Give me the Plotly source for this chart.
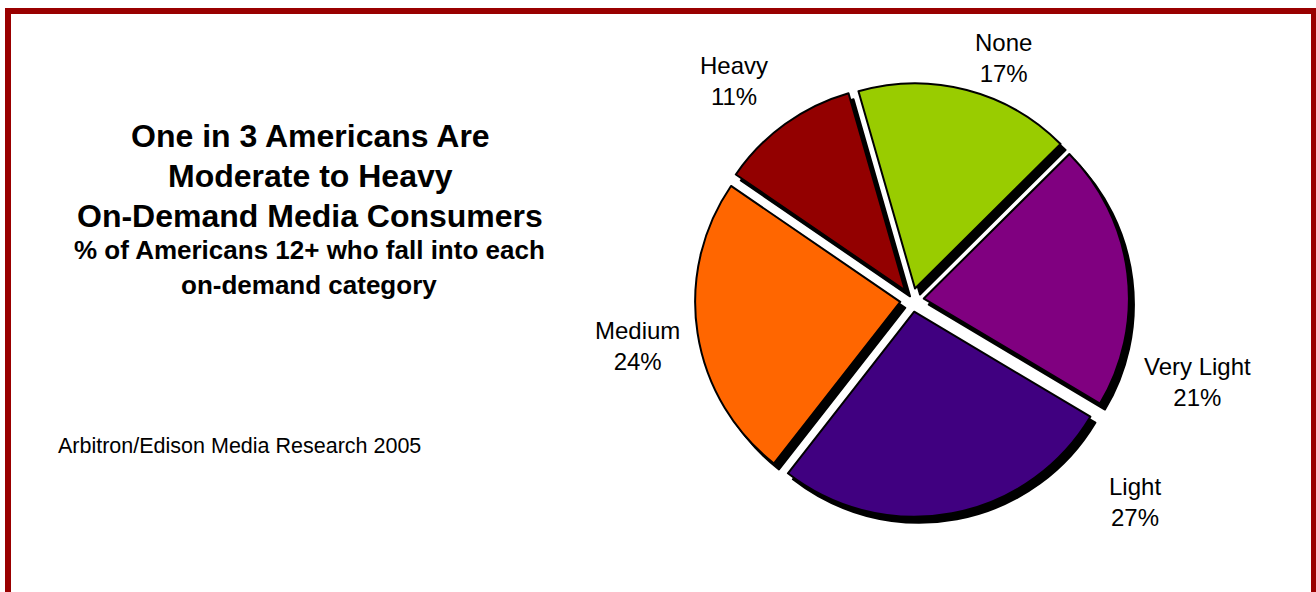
import plotly.graph_objects as go

# ---- data ----
categories = ["None", "Very Light", "Light", "Medium", "Heavy"]
values = [17, 21, 27, 24, 11]
colors = ["#99CC00", "#800080", "#400080", "#FF6600", "#930000"]

title_lines = ["One in 3 Americans Are", "Moderate to Heavy", "On-Demand Media Consumers"]
subtitle_lines = ["% of Americans 12+ who fall into each", "on-demand category"]
source_text = "Arbitron/Edison Media Research 2005"

# ---- layout helpers (pixel positions) ----
W, H = 1316, 592
def px(x):
    return x / W
def py(y):
    return 1 - y / H

# label centres (pixels), same order as categories
label_pos = [(1003, 58), (1197, 382), (1135, 502), (637, 346), (734, 81)]

pull = 0.058
cx, cy, half = 912, 300, 217
dom_x = [px(cx - half), px(cx + half)]
dom_y = [py(cy + half), py(cy - half)]
sdx, sdy = 5, 6  # shadow offset

FONT = "Liberation Sans, Arial, sans-serif"

fig = go.Figure()
# shadow
fig.add_trace(go.Pie(
    labels=categories, values=values, sort=False, direction="clockwise",
    rotation=-16, pull=[pull] * len(values),
    marker=dict(colors=["#000000"] * len(values), line=dict(color="#000000", width=2)),
    textinfo="none", hoverinfo="skip", showlegend=False,
    domain=dict(x=[d + sdx / W for d in dom_x], y=[d - sdy / H for d in dom_y]),
))
# main pie
fig.add_trace(go.Pie(
    labels=categories, values=values, sort=False, direction="clockwise",
    rotation=-16, pull=[pull] * len(values),
    marker=dict(colors=colors, line=dict(color="#000000", width=2)),
    textinfo="none", showlegend=False,
    domain=dict(x=dom_x, y=dom_y),
))

total = sum(values)
annotations = []
for cat, v, (lx, ly) in zip(categories, values, label_pos):
    annotations.append(dict(
        x=px(lx), y=py(ly), xref="paper", yref="paper",
        text=f"{cat}<br>{round(100 * v / total)}%", showarrow=False,
        xanchor="center", yanchor="middle",
        font=dict(family=FONT, size=24, color="#000000"),
    ))

for line, ypix in zip(title_lines, [136, 176, 216]):
    annotations.append(dict(
        x=px(310), y=py(ypix), xref="paper", yref="paper", text=f"<b>{line}</b>",
        showarrow=False, xanchor="center", yanchor="middle",
        font=dict(family=FONT, size=32, color="#000000"),
    ))
for line, ypix in zip(subtitle_lines, [250, 285]):
    annotations.append(dict(
        x=px(309), y=py(ypix), xref="paper", yref="paper", text=f"<b>{line}</b>",
        showarrow=False, xanchor="center", yanchor="middle",
        font=dict(family=FONT, size=26, color="#000000"),
    ))
annotations.append(dict(
    x=px(56), y=py(446), xref="paper", yref="paper", text=source_text,
    showarrow=False, xanchor="left", yanchor="middle",
    font=dict(family=FONT, size=21.5, color="#000000"),
))

fig.update_layout(
    width=W, height=H,
    margin=dict(l=0, r=0, t=0, b=0),
    paper_bgcolor="#FFFFFF", plot_bgcolor="#FFFFFF",
    annotations=annotations,
    shapes=[dict(type="rect", xref="paper", yref="paper",
                 x0=px(8), x1=px(1314), y0=-0.1, y1=py(11),
                 line=dict(color="#990000", width=6), fillcolor="rgba(0,0,0,0)")],
)

fig.write_html("out.html", config={"displayModeBar": False})
